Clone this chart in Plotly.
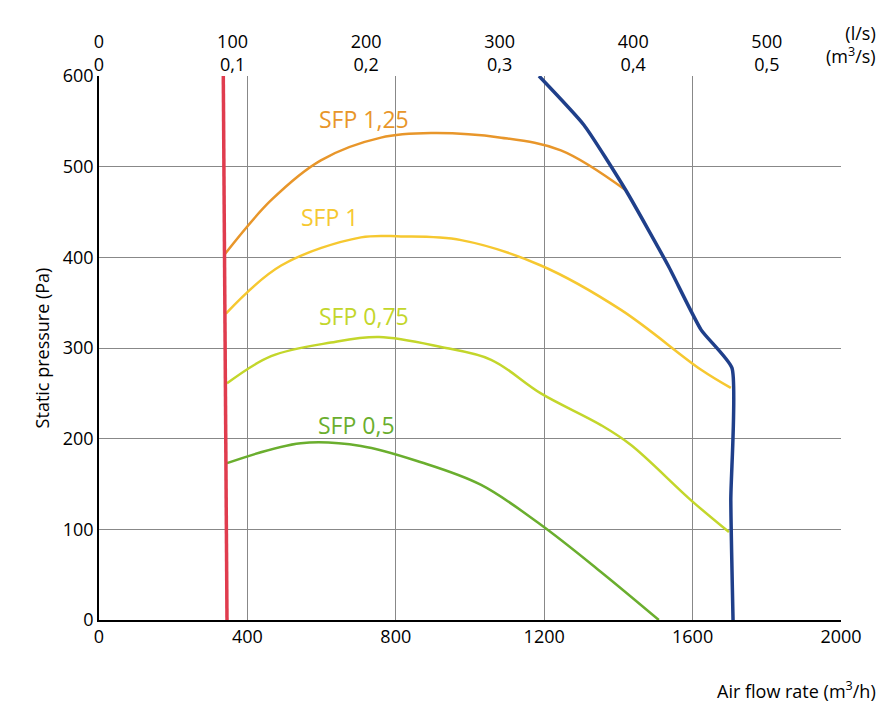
import plotly.graph_objects as go

red_x = [335, 345]
red_y = [600, 0]
blue_x = [1186, 1307, 1420, 1534, 1623, 1706, 1703, 1709]
blue_y = [600, 546, 474, 391, 320, 278, 132, 0]
sfp125_x = [340, 464, 598, 760, 895, 1084, 1245, 1420]
sfp125_y = [404, 463, 507, 532, 537, 532, 518, 474]
sfp1_x = [342, 491, 706, 814, 976, 1191, 1407, 1623, 1703]
sfp1_y = [338, 391, 422, 423, 419, 391, 342, 276, 256]
sfp075_x = [345, 464, 625, 755, 922, 1057, 1191, 1353, 1434, 1596, 1698]
sfp075_y = [261, 291, 306, 312, 301, 287, 250, 215, 193, 132, 97]
sfp05_x = [345, 544, 706, 868, 1030, 1191, 1353, 1509]
sfp05_y = [173, 195, 192, 174, 149, 105, 53, 0]

top_ls = [0, 100, 200, 300, 400, 500]
top_m3s = ["0", "0,1", "0,2", "0,3", "0,4", "0,5"]

font = "Open Sans"
fig = go.Figure()
curves = [
    (sfp125_x, sfp125_y, "#e8962a", "SFP 1,25", 715, 553),
    (sfp1_x, sfp1_y, "#f6c830", "SFP 1", 620, 444),
    (sfp075_x, sfp075_y, "#c3d62b", "SFP 0,75", 715, 335),
    (sfp05_x, sfp05_y, "#6aae2e", "SFP 0,5", 695, 215),
]
for x, y, c, name, lx, ly in curves:
    fig.add_trace(go.Scatter(x=x, y=y, mode="lines", line=dict(color=c, width=2.5, shape="spline"),
                             showlegend=False))
    fig.add_annotation(x=lx, y=ly, text=name, showarrow=False, font=dict(color=c, size=23, family=font))
fig.add_trace(go.Scatter(x=red_x, y=red_y, mode="lines", line=dict(color="#e03c4e", width=3.5), showlegend=False))
fig.add_trace(go.Scatter(x=blue_x, y=blue_y, mode="lines", line=dict(color="#1f3f8a", width=3.5, shape="spline", smoothing=0.5),
                         showlegend=False))
# dummy trace to activate top axis
fig.add_trace(go.Scatter(x=[0], y=[0], xaxis="x2", mode="markers", marker=dict(opacity=0), showlegend=False, hoverinfo="skip"))

fig.update_layout(
    width=888, height=712, plot_bgcolor="white", paper_bgcolor="white",
    margin=dict(l=91, r=55, t=68, b=100),
    font=dict(family=font, size=18, color="black"),
    xaxis=dict(range=[0, 2000], tickvals=[0, 400, 800, 1200, 1600, 2000], showgrid=True,
               gridcolor="#888", gridwidth=1, showline=True, linecolor="black", linewidth=1.5,
               ticks="", zeroline=False),
    xaxis2=dict(range=[0, 2000], overlaying="x", side="top",
                tickvals=[v * 3.6 for v in top_ls],
                ticktext=[f"{a}<br>{b}" for a, b in zip(top_ls, top_m3s)],
                showgrid=False, ticks="", showline=False),
    yaxis=dict(range=[0, 600], tickvals=list(range(0, 601, 100)), showgrid=True, gridcolor="#888",
               gridwidth=1, showline=True, linecolor="black", linewidth=1.5, ticks="", zeroline=False,
               title=dict(text="Static pressure (Pa)", standoff=8, font=dict(size=18))),
)
fig.add_annotation(xref="paper", yref="paper", x=1.05, y=1.0, yshift=6, xanchor="right", yanchor="bottom",
                   text="(l/s)<br>(m<sup>3</sup>/s)", showarrow=False, align="right", font=dict(size=18))
fig.add_annotation(xref="paper", yref="paper", x=1.05, y=0, yshift=-55, xanchor="right", yanchor="top",
                   text="Air flow rate (m<sup>3</sup>/h)", showarrow=False, font=dict(size=18))
fig.write_html("out.html")
